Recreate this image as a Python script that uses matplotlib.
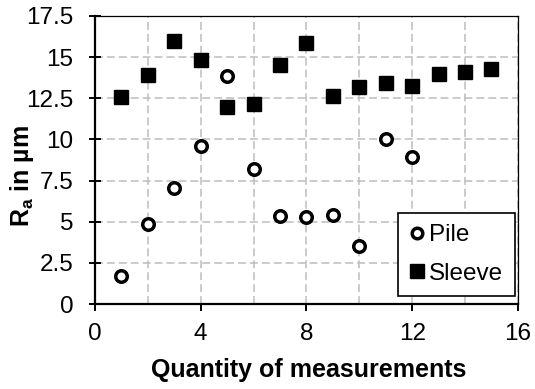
import matplotlib.pyplot as plt
from matplotlib.ticker import MultipleLocator, FormatStrFormatter

plt.rcParams['font.family'] = ['Liberation Sans', 'DejaVu Sans']

pile_x = [1, 2, 3, 4, 5, 6, 7, 8, 9, 10, 11, 12]
pile_y = [1.72, 4.84, 7.05, 9.6, 13.85, 8.18, 5.35, 5.29, 5.39, 3.52, 10.0, 8.91]
sleeve_x = [1, 2, 3, 4, 5, 6, 7, 8, 9, 10, 11, 12, 13, 14, 15]
sleeve_y = [12.56, 13.9, 15.98, 14.85, 12.0, 12.15, 14.52, 15.88, 12.64, 13.16, 13.43, 13.24, 14.0, 14.07, 14.25]

fig = plt.figure(figsize=(5.35, 3.89), dpi=100)
ax = fig.add_axes([0.1776, 0.2185, 0.7904, 0.7404])

ax.plot(pile_x, pile_y, linestyle='none', marker='o', markersize=8.3,
        markerfacecolor='white', markeredgecolor='black', markeredgewidth=2.5,
        label='Pile', zorder=3)
ax.plot(sleeve_x, sleeve_y, linestyle='none', marker='s', markersize=10.5,
        color='black', label='Sleeve', zorder=3)

ax.set_xlim(0, 16)
ax.set_ylim(0, 17.5)
ax.xaxis.set_major_locator(MultipleLocator(4))
ax.xaxis.set_minor_locator(MultipleLocator(2))
ax.yaxis.set_major_locator(MultipleLocator(2.5))
ax.yaxis.set_major_formatter(FormatStrFormatter('%g'))

ax.grid(which='both', color='#bdbdbd', linestyle=(0, (5.2, 2.6)), linewidth=1.1)
ax.set_axisbelow(True)

for s in ['left', 'bottom']:
    ax.spines[s].set_linewidth(1.6)
for s in ['top', 'right']:
    ax.spines[s].set_linewidth(0.9)

ax.tick_params(axis='y', which='major', direction='inout', length=9, width=1.4,
               labelsize=17.5, pad=11)
ax.tick_params(axis='x', which='major', direction='out', length=5, width=1.4,
               labelsize=17.5, pad=9)
ax.tick_params(axis='x', which='minor', length=0)

ax.set_xlabel('Quantity of measurements', fontsize=18, fontweight='bold')
ax.set_ylabel(r'R$_\mathregular{a}$ in µm', fontsize=18, fontweight='bold')
ax.xaxis.set_label_coords(0.505, -0.188)
ax.yaxis.set_label_coords(-0.139, 0.443)

leg = ax.legend(loc='lower right', bbox_to_anchor=(0.993, 0.028), fontsize=17.5,
                frameon=True, fancybox=False, edgecolor='black', framealpha=1,
                handlelength=0.6, handletextpad=0.22, borderpad=0.47, labelspacing=0.66,
                markerscale=1, borderaxespad=0)
leg.get_frame().set_linewidth(1.2)
leg.legend_handles[0].set_markersize(7.6)
leg.legend_handles[1].set_markersize(10.5)

fig.savefig('out.png', dpi=100)
